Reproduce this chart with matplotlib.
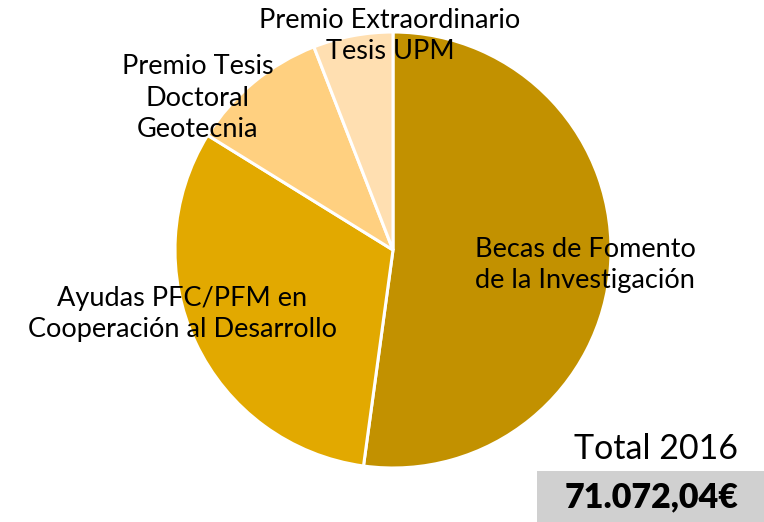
import matplotlib
matplotlib.use("Agg")
import matplotlib.pyplot as plt
from matplotlib.patches import Rectangle

plt.rcParams['font.family'] = ['Lato', 'DejaVu Sans']

categories = ["Becas de Fomento\nde la Investigación",
              "Ayudas PFC/PFM en\nCooperación al Desarrollo",
              "Premio Tesis\nDoctoral\nGeotecnia",
              "Premio Extraordinario\nTesis UPM"]
values = [37072.04, 22500.0, 7300.0, 4200.0]
colors = ["#C29100", "#E2A900", "#FFD080", "#FFDFB1"]
total_title = "Total 2016"
total_value = "71.072,04€"

fig = plt.figure(figsize=(7.64, 5.22), dpi=100)
ax = fig.add_axes([0, 0, 1, 1])

ax.pie(values, colors=colors, startangle=90, counterclock=False,
       center=(393, 272), radius=218, frame=True,
       wedgeprops=dict(edgecolor='white', linewidth=2.2))
ax.set_xlim(0, 764)
ax.set_ylim(0, 522)
ax.set_aspect('equal')
ax.axis('off')

label_pos = [(585, 257), (182, 208), (198, 424), (390, 486)]
for txt, (x, y) in zip(categories, label_pos):
    ax.text(x, y, txt, ha='center', va='center', fontsize=19.5,
            linespacing=1.32, color='black')

ax.add_patch(Rectangle((537, 0), 227, 51, facecolor='#D0D0D0', edgecolor='none'))
ax.text(656, 73, total_title, ha='center', va='center', fontsize=24.5)
ax.text(652, 25, total_value, ha='center', va='center', fontsize=24.5, fontweight='heavy')

fig.savefig("out.png", dpi=100)
